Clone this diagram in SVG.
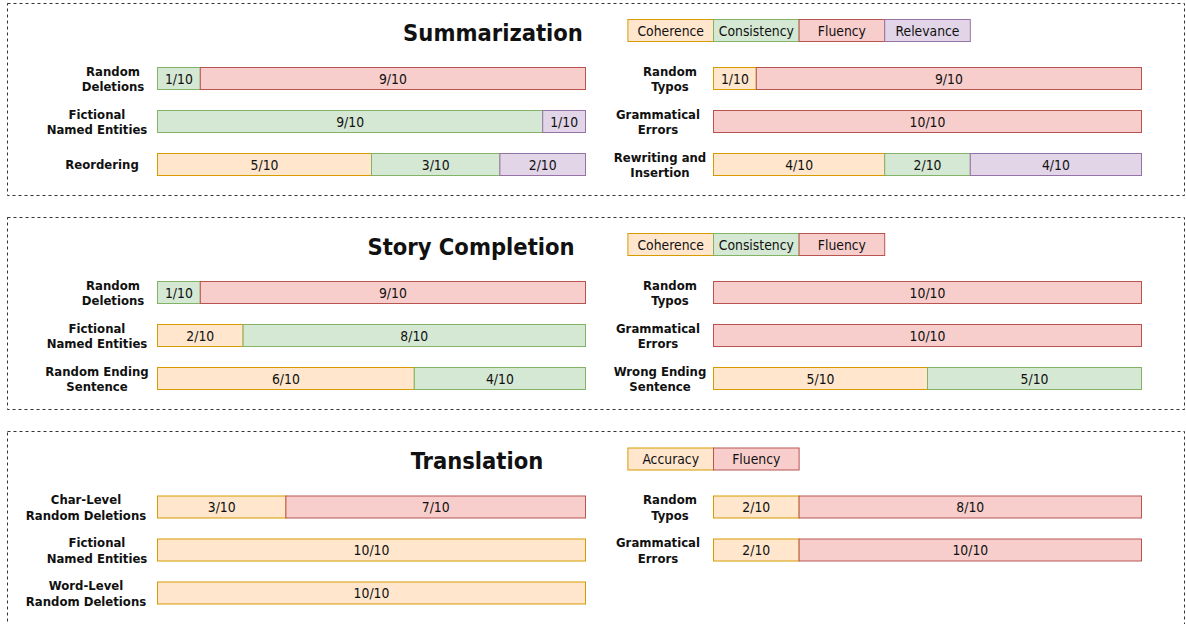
<svg xmlns="http://www.w3.org/2000/svg" width="1186" height="624" viewBox="0 0 1186 624">
<style>
text{font-family:"DejaVu Sans Condensed","DejaVu Sans","Liberation Sans",sans-serif;fill:#111}
.box{fill:none;stroke:#333;stroke-width:1;stroke-dasharray:3 3}
.title{font-size:23.5px;font-weight:bold;text-anchor:middle}
.lbl{font-size:13px;font-weight:bold;text-anchor:middle}
.v{font-size:13.8px;text-anchor:middle}
.o{fill:#ffe6cc;stroke:#d79b00}
.g{fill:#d5e8d4;stroke:#82b366}
.r{fill:#f8cecc;stroke:#b85450}
.p{fill:#e1d5e7;stroke:#9673a6}
</style>
<rect x="0" y="0" width="1186" height="624" fill="#fff"/>

<!-- Section 1: Summarization -->
<g id="summarization">
<rect class="box" x="7.5" y="3.5" width="1177" height="192"/>
<text class="title" x="493" y="41">Summarization</text>
<g id="sum-legend">
<rect class="o" x="627.9" y="19.5" width="85.6" height="22"/><text class="v" x="670.7" y="35.5">Coherence</text>
<rect class="g" x="713.5" y="19.5" width="85.6" height="22"/><text class="v" x="756.3" y="35.5">Consistency</text>
<rect class="r" x="799.1" y="19.5" width="85.6" height="22"/><text class="v" x="841.9" y="35.5">Fluency</text>
<rect class="p" x="884.7" y="19.5" width="85.6" height="22"/><text class="v" x="927.5" y="35.5">Relevance</text>
</g>
<g id="sum-random-deletions">
<text class="lbl" x="113" y="75.5">Random</text><text class="lbl" x="113" y="91">Deletions</text>
<rect class="g" x="157.5" y="67.5" width="42.8" height="22"/><text class="v" x="178.9" y="83.5">1/10</text>
<rect class="r" x="200.3" y="67.5" width="385.2" height="22"/><text class="v" x="392.9" y="83.5">9/10</text>
</g>
<g id="sum-fictional">
<text class="lbl" x="97" y="118.5">Fictional</text><text class="lbl" x="97" y="134">Named Entities</text>
<rect class="g" x="157.5" y="110.5" width="385.2" height="22"/><text class="v" x="350.1" y="126.5">9/10</text>
<rect class="p" x="542.7" y="110.5" width="42.8" height="22"/><text class="v" x="564.1" y="126.5">1/10</text>
</g>
<g id="sum-reordering">
<text class="lbl" x="102" y="169">Reordering</text>
<rect class="o" x="157.5" y="153.5" width="214" height="22"/><text class="v" x="264.5" y="169.5">5/10</text>
<rect class="g" x="371.5" y="153.5" width="128.4" height="22"/><text class="v" x="435.7" y="169.5">3/10</text>
<rect class="p" x="499.9" y="153.5" width="85.6" height="22"/><text class="v" x="542.7" y="169.5">2/10</text>
</g>
<g id="sum-random-typos">
<text class="lbl" x="670" y="75.5">Random</text><text class="lbl" x="670" y="91">Typos</text>
<rect class="o" x="713.5" y="67.5" width="42.8" height="22"/><text class="v" x="734.9" y="83.5">1/10</text>
<rect class="r" x="756.3" y="67.5" width="385.2" height="22"/><text class="v" x="948.9" y="83.5">9/10</text>
</g>
<g id="sum-grammatical">
<text class="lbl" x="658" y="118.5">Grammatical</text><text class="lbl" x="658" y="134">Errors</text>
<rect class="r" x="713.5" y="110.5" width="428" height="22"/><text class="v" x="927.5" y="126.5">10/10</text>
</g>
<g id="sum-rewriting">
<text class="lbl" x="660" y="161.5">Rewriting and</text><text class="lbl" x="660" y="177">Insertion</text>
<rect class="o" x="713.5" y="153.5" width="171.2" height="22"/><text class="v" x="799.1" y="169.5">4/10</text>
<rect class="g" x="884.7" y="153.5" width="85.6" height="22"/><text class="v" x="927.5" y="169.5">2/10</text>
<rect class="p" x="970.3" y="153.5" width="171.2" height="22"/><text class="v" x="1055.9" y="169.5">4/10</text>
</g>
</g>

<!-- Section 2: Story Completion -->
<g id="story-completion" transform="translate(0,214)">
<rect class="box" x="7.5" y="3.5" width="1177" height="192"/>
<text class="title" x="471" y="41">Story Completion</text>
<g id="story-legend">
<rect class="o" x="627.9" y="19.5" width="85.6" height="22"/><text class="v" x="670.7" y="35.5">Coherence</text>
<rect class="g" x="713.5" y="19.5" width="85.6" height="22"/><text class="v" x="756.3" y="35.5">Consistency</text>
<rect class="r" x="799.1" y="19.5" width="85.6" height="22"/><text class="v" x="841.9" y="35.5">Fluency</text>
</g>
<g id="story-random-deletions">
<text class="lbl" x="113" y="75.5">Random</text><text class="lbl" x="113" y="91">Deletions</text>
<rect class="g" x="157.5" y="67.5" width="42.8" height="22"/><text class="v" x="178.9" y="83.5">1/10</text>
<rect class="r" x="200.3" y="67.5" width="385.2" height="22"/><text class="v" x="392.9" y="83.5">9/10</text>
</g>
<g id="story-fictional">
<text class="lbl" x="97" y="118.5">Fictional</text><text class="lbl" x="97" y="134">Named Entities</text>
<rect class="o" x="157.5" y="110.5" width="85.6" height="22"/><text class="v" x="200.3" y="126.5">2/10</text>
<rect class="g" x="243.1" y="110.5" width="342.4" height="22"/><text class="v" x="414.3" y="126.5">8/10</text>
</g>
<g id="story-random-ending">
<text class="lbl" x="97" y="161.5">Random Ending</text><text class="lbl" x="97" y="177">Sentence</text>
<rect class="o" x="157.5" y="153.5" width="256.8" height="22"/><text class="v" x="285.9" y="169.5">6/10</text>
<rect class="g" x="414.3" y="153.5" width="171.2" height="22"/><text class="v" x="499.9" y="169.5">4/10</text>
</g>
<g id="story-random-typos">
<text class="lbl" x="670" y="75.5">Random</text><text class="lbl" x="670" y="91">Typos</text>
<rect class="r" x="713.5" y="67.5" width="428" height="22"/><text class="v" x="927.5" y="83.5">10/10</text>
</g>
<g id="story-grammatical">
<text class="lbl" x="658" y="118.5">Grammatical</text><text class="lbl" x="658" y="134">Errors</text>
<rect class="r" x="713.5" y="110.5" width="428" height="22"/><text class="v" x="927.5" y="126.5">10/10</text>
</g>
<g id="story-wrong-ending">
<text class="lbl" x="660" y="161.5">Wrong Ending</text><text class="lbl" x="660" y="177">Sentence</text>
<rect class="o" x="713.5" y="153.5" width="214" height="22"/><text class="v" x="820.5" y="169.5">5/10</text>
<rect class="g" x="927.5" y="153.5" width="214" height="22"/><text class="v" x="1034.5" y="169.5">5/10</text>
</g>
</g>

<!-- Section 3: Translation -->
<g id="translation" transform="translate(0,428.5)">
<rect class="box" x="7.5" y="3" width="1177" height="196"/>
<text class="title" x="477" y="40">Translation</text>
<g id="trans-legend">
<rect class="o" x="627.9" y="19.5" width="85.6" height="22"/><text class="v" x="670.7" y="35.5">Accuracy</text>
<rect class="r" x="713.5" y="19.5" width="85.6" height="22"/><text class="v" x="756.3" y="35.5">Fluency</text>
</g>
<g id="trans-char-level">
<text class="lbl" x="86" y="75.5">Char-Level</text><text class="lbl" x="86" y="91">Random Deletions</text>
<rect class="o" x="157.5" y="67.5" width="128.4" height="22"/><text class="v" x="221.7" y="83.5">3/10</text>
<rect class="r" x="285.9" y="67.5" width="299.6" height="22"/><text class="v" x="435.7" y="83.5">7/10</text>
</g>
<g id="trans-fictional">
<text class="lbl" x="97" y="118.5">Fictional</text><text class="lbl" x="97" y="134">Named Entities</text>
<rect class="o" x="157.5" y="110.5" width="428" height="22"/><text class="v" x="371.5" y="126.5">10/10</text>
</g>
<g id="trans-word-level">
<text class="lbl" x="86" y="161.5">Word-Level</text><text class="lbl" x="86" y="177">Random Deletions</text>
<rect class="o" x="157.5" y="153.5" width="428" height="22"/><text class="v" x="371.5" y="169.5">10/10</text>
</g>
<g id="trans-random-typos">
<text class="lbl" x="670" y="75.5">Random</text><text class="lbl" x="670" y="91">Typos</text>
<rect class="o" x="713.5" y="67.5" width="85.6" height="22"/><text class="v" x="756.3" y="83.5">2/10</text>
<rect class="r" x="799.1" y="67.5" width="342.4" height="22"/><text class="v" x="970.3" y="83.5">8/10</text>
</g>
<g id="trans-grammatical">
<text class="lbl" x="658" y="118.5">Grammatical</text><text class="lbl" x="658" y="134">Errors</text>
<rect class="o" x="713.5" y="110.5" width="85.6" height="22"/><text class="v" x="756.3" y="126.5">2/10</text>
<rect class="r" x="799.1" y="110.5" width="342.4" height="22"/><text class="v" x="970.3" y="126.5">10/10</text>
</g>
</g>
</svg>
